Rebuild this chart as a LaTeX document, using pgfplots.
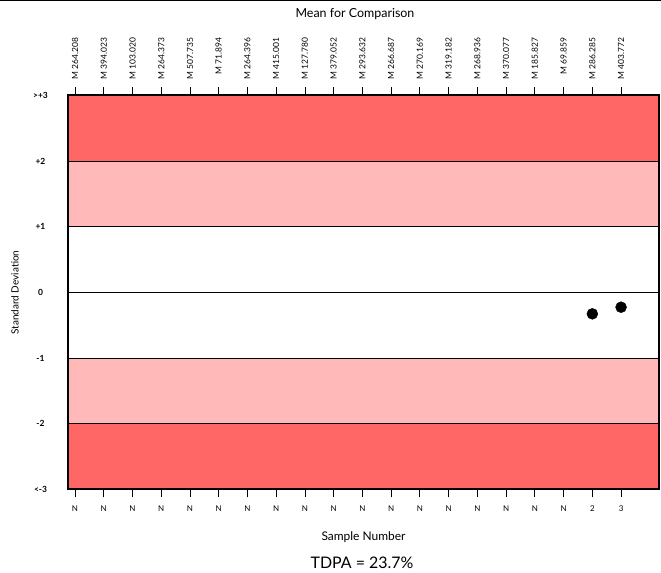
\documentclass[border=0pt]{standalone}
\usepackage{fontspec}
\setmainfont{Lato}
\usepackage{pgfplots}
\pgfplotsset{compat=1.18}
\definecolor{bandred}{RGB}{255,102,102}
\definecolor{bandpink}{RGB}{255,185,185}
\newcommand\ml[1]{\makebox[46bp][r]{M #1}}
\begin{document}
\begin{tikzpicture}[x=1bp,y=1bp]
\path[use as bounding box] (-68,-83.5) rectangle (593,489.5);
\draw[black, line width=1bp] (-68,489) -- (593,489);
\begin{axis}[at={(0,0)}, anchor=south west, scale only axis,
  width=591bp, height=394bp,
  xmin=-0.244, xmax=20.32, ymin=-3, ymax=3,
  axis on top,
  axis line style={line width=2bp},
  tick align=outside, major tick length=8bp,
  xtick={0,...,19}, xtick pos=left, xticklabel pos=left,
  xticklabels={N,N,N,N,N,N,N,N,N,N,N,N,N,N,N,N,N,N,2,3},
  xtick style={black, line width=0.8bp},
  xticklabel style={font=\fontsize{8}{8}\selectfont, yshift=-4.5bp},
  ytick={-3,...,3},
  yticklabels={<-3,-2,-1,0,+1,+2,>+3},
  ytick style={draw=none},
  yticklabel style={font=\bfseries\fontsize{8.5}{8.5}\selectfont, anchor=center, xshift=-19.5bp},
  xlabel={Sample Number},
  every axis x label/.style={at={(axis description cs:0.5,0)}, anchor=center, yshift=-47.5bp, font=\fontsize{12}{12}\selectfont},
  ylabel={Standard Deviation},
  every axis y label/.style={at={(axis description cs:-0.0897,0.5)}, anchor=center, rotate=90, font=\fontsize{10}{10}\selectfont},
]
\addplot[fill=bandred, draw=none] coordinates {(-1,2) (21,2) (21,3) (-1,3)} -- cycle;
\addplot[fill=bandpink, draw=none] coordinates {(-1,1) (21,1) (21,2) (-1,2)} -- cycle;
\addplot[fill=bandpink, draw=none] coordinates {(-1,-2) (21,-2) (21,-1) (-1,-1)} -- cycle;
\addplot[fill=bandred, draw=none] coordinates {(-1,-3) (21,-3) (21,-2) (-1,-2)} -- cycle;
\addplot[black, line width=1.2bp] coordinates {(-1,2) (21,2)};
\addplot[black, line width=1.2bp] coordinates {(-1,1) (21,1)};
\addplot[black, line width=1.2bp] coordinates {(-1,0) (21,0)};
\addplot[black, line width=1.2bp] coordinates {(-1,-1) (21,-1)};
\addplot[black, line width=1.2bp] coordinates {(-1,-2) (21,-2)};
\addplot[only marks, mark=*, mark size=5.5bp, black] coordinates {(18,-0.325) (19,-0.224)};
\end{axis}
\begin{axis}[at={(0,0)}, anchor=south west, scale only axis,
  width=591bp, height=394bp,
  xmin=-0.244, xmax=20.32, ymin=-3, ymax=3,
  axis line style={line width=2bp},
  tick align=outside, major tick length=8bp,
  xtick={0,...,19}, xtick pos=right, xticklabel pos=right,
  xticklabels={\ml{264.208},\ml{394.023},\ml{103.020},\ml{264.373},\ml{507.735},\ml{71.894},\ml{264.396},\ml{415.001},\ml{127.780},\ml{379.052},\ml{293.632},\ml{266.687},\ml{270.169},\ml{319.182},\ml{268.936},\ml{370.077},\ml{185.827},\ml{69.859},\ml{286.285},\ml{403.772}},
  xtick style={black, line width=0.8bp},
  xticklabel style={rotate=90, anchor=west, font=\fontsize{8.5}{8.5}\selectfont},
  ytick=\empty,
  title={Mean for Comparison},
  title style={at={(axis description cs:0.4856,1)}, anchor=center, yshift=75.5bp, font=\fontsize{12.5}{12.5}\selectfont},
]
\end{axis}
\node[font=\fontsize{16}{16}\selectfont] at (294,-73.5) {TDPA = 23.7\%};
\end{tikzpicture}
\end{document}
